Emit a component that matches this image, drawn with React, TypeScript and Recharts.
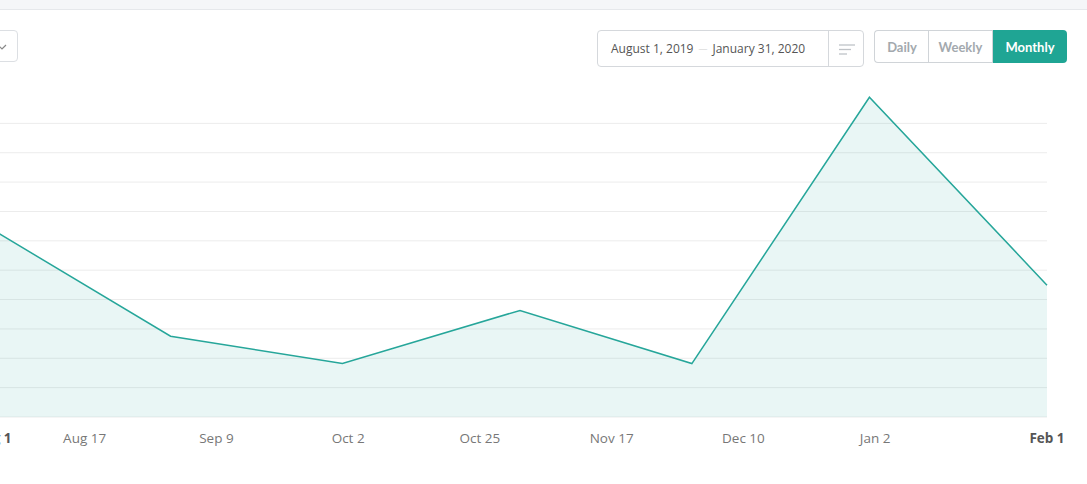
import React from 'react';
import { AreaChart, Area, XAxis, YAxis, CartesianGrid } from 'recharts';

// Days since Aug 1, 2019 for each monthly point (Aug 1 … Feb 1)
const pointDays = [0, 31, 61, 92, 122, 153, 184];
const pointValues = [6.37, 2.75, 1.82, 3.63, 1.82, 10.89, 4.49];

const tickDays = [0, 16, 39, 62, 85, 108, 131, 154, 184];
const tickLabels = ['Aug 1', 'Aug 17', 'Sep 9', 'Oct 2', 'Oct 25', 'Nov 17', 'Dec 10', 'Jan 2', 'Feb 1'];
const yTicks = [0, 1, 2, 3, 4, 5, 6, 7, 8, 9, 10];
const yDomain = [0, 11];

const data = pointDays.map((d, i) => ({ day: d, value: pointValues[i] }));

const TEAL = '#26a69a';

const Tick = (props: any) => {
  const { x, y, payload } = props;
  const idx = tickDays.indexOf(payload.value);
  const edge = idx === 0 || idx === tickDays.length - 1;
  return (
    <text
      x={x}
      y={y + 26}
      textAnchor="middle"
      fontFamily="'Open Sans', sans-serif"
      fontSize={13.5}
      fontWeight={edge ? 700 : 400}
      fill={edge ? '#555' : '#777'}
    >
      {tickLabels[idx]}
    </text>
  );
};

const gridGen = (args: any) => {
  const s = args?.yAxis?.scale;
  if (typeof s === 'function') return yTicks.map((v) => s(v));
  const off = args?.offset;
  if (off && typeof off.top === 'number' && typeof off.height === 'number') {
    const span = yDomain[1] - yDomain[0];
    return yTicks.map((v) => off.top + off.height * (1 - (v - yDomain[0]) / span));
  }
  return [];
};

const btnBase: React.CSSProperties = {
  position: 'absolute',
  top: 0,
  height: 33,
  boxSizing: 'border-box',
  display: 'flex',
  alignItems: 'center',
  justifyContent: 'center',
  fontFamily: 'Lato, sans-serif',
  fontWeight: 700,
  fontSize: 13,
  color: '#a3a9ae',
};

export default function App() {
  return (
    <div
      style={{
        position: 'absolute',
        left: 0,
        top: 0,
        width: 1087,
        height: 484,
        overflow: 'hidden',
        background: '#fff',
        fontFamily: "'Open Sans', sans-serif",
      }}
    >
      {/* top bar */}
      <div
        style={{
          position: 'absolute',
          left: 0,
          top: 0,
          width: 1087,
          height: 9,
          background: '#f5f6f8',
          borderBottom: '1px solid #e6e8eb',
        }}
      />
      {/* left dropdown (cut off) */}
      <div
        style={{
          position: 'absolute',
          left: -60,
          top: 30,
          width: 78,
          height: 32,
          boxSizing: 'border-box',
          border: '1px solid #dcdfe3',
          borderRadius: 4,
        }}
      >
        <svg style={{ position: 'absolute', left: 56, top: 12 }} width={10} height={8}>
          <polyline points="1,2 5,6 9,2" fill="none" stroke="#888" strokeWidth={1.2} />
        </svg>
      </div>
      {/* date picker */}
      <div
        style={{
          position: 'absolute',
          left: 597,
          top: 30,
          width: 267,
          height: 37,
          boxSizing: 'border-box',
          border: '1px solid #d5d8dc',
          borderRadius: 4,
        }}
      >
        <div
          style={{
            position: 'absolute',
            left: 13,
            top: 0,
            height: 35,
            display: 'flex',
            alignItems: 'center',
            fontSize: 12,
            color: '#555',
            whiteSpace: 'nowrap',
          }}
        >
          <span>August 1, 2019</span>
          <span style={{ color: '#cfcfcf', margin: '0 5px', fontSize: 9 }}>—</span>
          <span>January 31, 2020</span>
        </div>
        <div
          style={{ position: 'absolute', left: 230, top: 0, width: 1, height: 35, background: '#d5d8dc' }}
        />
        <svg style={{ position: 'absolute', left: 240, top: 12 }} width={18} height={12}>
          <line x1={1} y1={2} x2={17} y2={2} stroke="#bfc3c7" strokeWidth={1.3} />
          <line x1={1} y1={6.5} x2={13} y2={6.5} stroke="#bfc3c7" strokeWidth={1.3} />
          <line x1={1} y1={11} x2={9} y2={11} stroke="#bfc3c7" strokeWidth={1.3} />
        </svg>
      </div>
      {/* period buttons */}
      <div style={{ position: 'absolute', left: 874, top: 30, width: 193, height: 33 }}>
        <div
          style={{
            ...btnBase,
            left: 0,
            width: 55,
            border: '1px solid #d0d4d8',
            borderRight: 'none',
            borderRadius: '4px 0 0 4px',
          }}
        >
          Daily
        </div>
        <div
          style={{
            ...btnBase,
            left: 54,
            width: 65,
            border: '1px solid #d0d4d8',
          }}
        >
          Weekly
        </div>
        <div
          style={{
            ...btnBase,
            left: 119,
            width: 74,
            background: '#1fa594',
            color: '#fff',
            borderRadius: '0 4px 4px 0',
          }}
        >
          Monthly
        </div>
      </div>
      {/* chart */}
      <div style={{ position: 'absolute', left: -7, top: 80 }}>
        <AreaChart
          width={1110}
          height={404}
          data={data}
          margin={{ top: 14, right: 56, left: 0, bottom: 0 }}
        >
          <CartesianGrid
            vertical={false}
            stroke="#ececec"
            horizontalCoordinatesGenerator={gridGen}
          />
          <XAxis
            dataKey="day"
            type="number"
            domain={[0, 184]}
            ticks={tickDays}
            interval={0}
            axisLine={false}
            tickLine={false}
            tickSize={0}
            tickMargin={0}
            height={67}
            tick={<Tick />}
          />
          <YAxis hide domain={yDomain} ticks={yTicks} />
          <Area
            type="linear"
            dataKey="value"
            stroke={TEAL}
            strokeWidth={1.5}
            fill={TEAL}
            fillOpacity={0.1}
            dot={false}
            activeDot={false}
            isAnimationActive={false}
          />
        </AreaChart>
      </div>
    </div>
  );
}
